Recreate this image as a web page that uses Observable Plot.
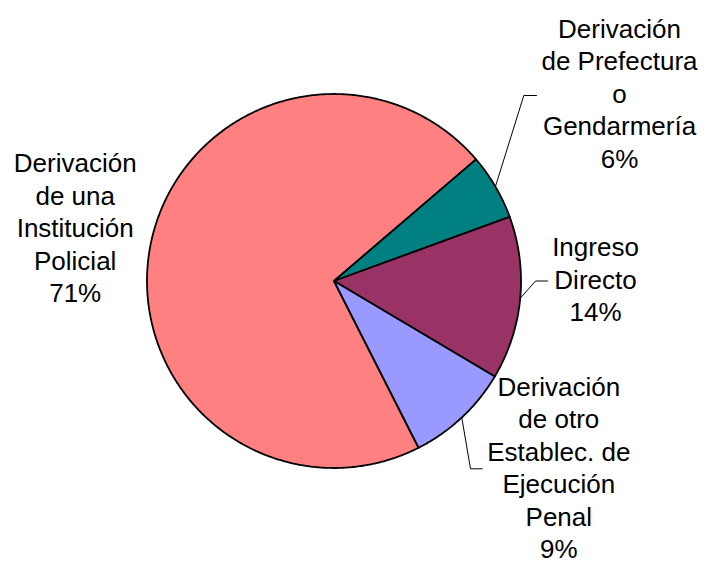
<!DOCTYPE html>
<html>
<head>
<meta charset="utf-8">
<script src="https://cdn.jsdelivr.net/npm/d3@7"></script>
<script src="https://cdn.jsdelivr.net/npm/@observablehq/plot@0.6"></script>
<style>
  html, body { margin: 0; padding: 0; background: #fff; }
</style>
</head>
<body>
<script>
// ---- data ----
const categories = [
  "Derivación de una Institución Policial",
  "Derivación de Prefectura o Gendarmería",
  "Ingreso Directo",
  "Derivación de otro Establec. de Ejecución Penal"
];
const labelLines = [
  "Derivación\nde una\nInstitución\nPolicial",
  "Derivación\nde Prefectura\no\nGendarmería",
  "Ingreso\nDirecto",
  "Derivación\nde otro\nEstablec. de\nEjecución\nPenal"
];
const values = [71.2, 5.7, 14.1, 9.0];
const colors = ["#FF8080", "#008080", "#993366", "#9999FF"];

// ---- layout ----
const W = 712, H = 563;
const CX = 333.5, CY = 280.5, R = 187;
const START_DEG = 153.1;
const FS = 26, LH = 32.6 / 26;
const labelLayout = [
  {x: 74.7, base: 171.5, leader: null},
  {x: 619, base: 37, leader: [[523.3, 95], [536, 95]]},
  {x: 595, base: 255.7, leader: [[535, 280.5], [547, 280.5]]},
  {x: 558.3, base: 395, leader: [[470, 468.3], [481.7, 468.3]]}
];

// ---- geometry from values ----
const total = d3.sum(values);
const arcs = d3.pie().sort(null)
  .startAngle(START_DEG * Math.PI / 180)
  .endAngle(START_DEG * Math.PI / 180 + 2 * Math.PI)(values);

const px = a => CX + R * Math.sin(a);
const py = a => CY - R * Math.cos(a);

const slicePts = [];
arcs.forEach((a, i) => {
  const cat = categories[i];
  slicePts.push({cat, x: CX, y: CY});
  const n = Math.max(2, Math.ceil((a.endAngle - a.startAngle) / (Math.PI / 360)));
  for (let k = 0; k <= n; k++) {
    const t = a.startAngle + (a.endAngle - a.startAngle) * k / n;
    slicePts.push({cat, x: px(t), y: py(t)});
  }
  slicePts.push({cat, x: CX, y: CY});
});

const leaderPts = [];
arcs.forEach((a, i) => {
  const L = labelLayout[i].leader;
  if (!L) return;
  const mid = (a.startAngle + a.endAngle) / 2;
  leaderPts.push({cat: categories[i], x: px(mid), y: py(mid)});
  L.forEach(p => leaderPts.push({cat: categories[i], x: p[0], y: p[1]}));
});

const labels = categories.map((c, i) => ({
  cat: c,
  text: labelLines[i] + "\n" + Math.round(values[i] / total * 100) + "%",
  x: labelLayout[i].x,
  y: labelLayout[i].base - 0.71 * LH * FS
}));

const chart = Plot.plot({
  width: W,
  height: H,
  margin: 0,
  x: {domain: [0, W], range: [0, W], axis: null},
  y: {domain: [0, H], range: [0, H], axis: null},
  color: {domain: categories, range: colors},
  style: {fontFamily: "'Liberation Sans', Arial, sans-serif", background: "#fff"},
  marks: [
    Plot.line(slicePts, {x: "x", y: "y", z: "cat", fill: "cat", stroke: "#000", strokeWidth: 1.8, strokeLinejoin: "round"}),
    Plot.line(leaderPts, {x: "x", y: "y", z: "cat", stroke: "#000", strokeWidth: 1, strokeLinejoin: "miter"}),
    Plot.text(labels, {x: "x", y: "y", text: "text", fontSize: FS, lineHeight: LH, lineAnchor: "top", textAnchor: "middle", fill: "#000"})
  ]
});
document.body.appendChild(chart);
</script>
</body>
</html>
